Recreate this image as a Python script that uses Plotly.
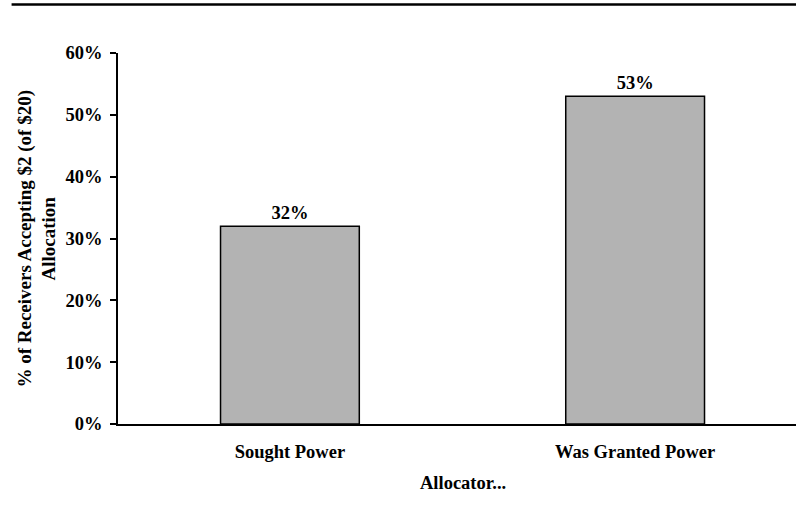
import plotly.graph_objects as go

categories = ["Sought Power", "Was Granted Power"]
values = [0.32, 0.53]
labels = ["32%", "53%"]
y_ticks = [0, 0.1, 0.2, 0.3, 0.4, 0.5, 0.6]
y_tick_labels = ["0%", "10%", "20%", "30%", "40%", "50%", "60%"]

FONT = "Liberation Serif"
FS = 18.5

fig = go.Figure(go.Bar(
    x=[0, 1], y=values, text=[f"<b>{l}</b>" for l in labels], textposition="outside",
    textfont=dict(family=FONT, size=FS, color="black"),
    marker=dict(color="#b3b3b3", line=dict(color="black", width=1.5)),
    width=0.402, cliponaxis=False,
))

L, T, B = 117.5, 53, 95
PW, PH = 796 - L, 519 - T - B

fig.update_layout(
    width=796, height=519,
    margin=dict(l=L, r=0, t=T, b=B),
    paper_bgcolor="white", plot_bgcolor="white",
    showlegend=False,
    font=dict(family=FONT, size=FS, color="black"),
    xaxis=dict(
        range=[-0.498, 1.466], tickmode="array", tickvals=[0, 1],
        ticktext=[f"<b>{c}</b>" for c in categories],
        showgrid=False, zeroline=False, showline=True, linecolor="black", linewidth=1.5,
        ticks="", ticklabelstandoff=10,
        tickfont=dict(family=FONT, size=FS, color="black"),
    ),
    yaxis=dict(
        range=[0, 0.6], tickmode="array", tickvals=y_ticks,
        ticktext=[f"<b>{t}</b>" for t in y_tick_labels],
        showgrid=False, zeroline=False, showline=True, linecolor="black", linewidth=1.5,
        ticks="outside", ticklen=6, tickwidth=1.5, tickcolor="black", ticklabelstandoff=4,
        tickfont=dict(family=FONT, size=FS, color="black"),
    ),
    annotations=[
        dict(text="<b>% of Receivers Accepting $2 (of $20)<br>Allocation</b>",
             xref="paper", yref="paper", x=(36 - L) / PW, y=(T + PH - 239) / PH,
             textangle=-90, showarrow=False, xanchor="center", yanchor="middle",
             font=dict(family=FONT, size=19, color="black")),
        dict(text="<b>Allocator...</b>",
             xref="paper", yref="paper", x=(463 - L) / PW, y=(T + PH - 483) / PH,
             showarrow=False, xanchor="center", yanchor="middle",
             font=dict(family=FONT, size=FS, color="black")),
    ],
    shapes=[dict(type="line", xref="paper", yref="paper",
                 x0=(11 - L) / PW, x1=1.0, y0=(T + PH - 4.5) / PH, y1=(T + PH - 4.5) / PH,
                 line=dict(color="black", width=2.5))],
)

fig.write_html("out.html", config={"displayModeBar": False},
               post_script="document.body.style.margin='0px';")
